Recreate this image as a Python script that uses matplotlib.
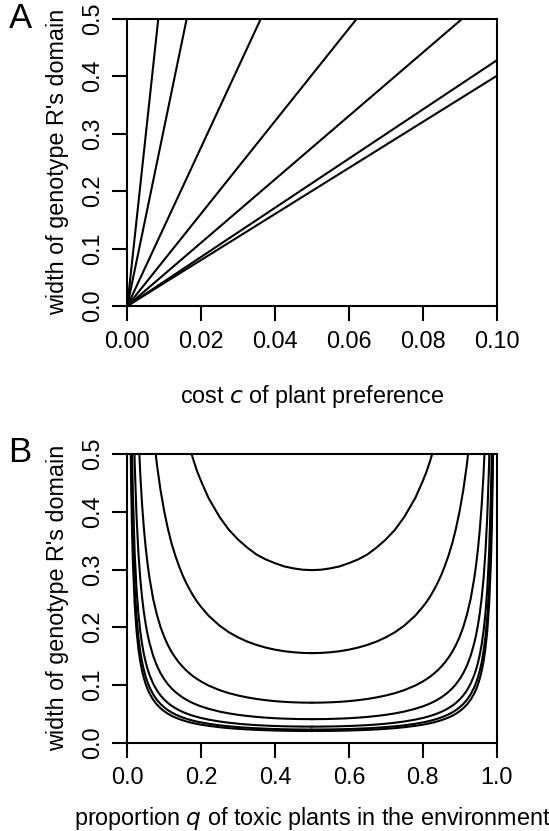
import matplotlib
matplotlib.use("Agg")
import matplotlib.pyplot as plt
import numpy as np

plt.rcParams['font.family'] = ['Liberation Sans', 'DejaVu Sans']

nan = np.nan

# Panel A: straight lines from the origin, end points
c_start = [0.0, 0.0, 0.0, 0.0, 0.0, 0.0, 0.0]
w_start = [0.0, 0.0, 0.0, 0.0, 0.0, 0.0, 0.0]
c_end = [0.0084, 0.0161, 0.0362, 0.0622, 0.0908, 0.100, 0.100]
w_end = [0.5, 0.5, 0.5, 0.5, 0.5, 0.427, 0.400]

# Panel B: U-shaped curves, symmetric about q = 0.5.
# Values read at q (left half); the same values are seen at the mirrored q on the right.
q_left = [0.004, 0.006, 0.008, 0.01, 0.0125, 0.015, 0.02, 0.025, 0.03, 0.035,
          0.04, 0.045, 0.05, 0.055, 0.06, 0.07, 0.08, 0.09, 0.1, 0.11,
          0.12, 0.13, 0.14, 0.15, 0.16, 0.17, 0.18, 0.19, 0.2, 0.22,
          0.25, 0.275, 0.3, 0.325, 0.35, 0.375, 0.4, 0.425, 0.45, 0.475, 0.5]
q_right = [0.996, 0.994, 0.992, 0.99, 0.9875, 0.985, 0.98, 0.975, 0.97, 0.965,
           0.96, 0.955, 0.95, 0.945, 0.94, 0.93, 0.92, 0.91, 0.9, 0.89,
           0.88, 0.87, 0.86, 0.85, 0.84, 0.83, 0.82, 0.81, 0.8, 0.78,
           0.75, 0.725, 0.7, 0.675, 0.65, 0.625, 0.6, 0.575, 0.55, 0.525, 0.5]

# nan = above the top of the plot
w1 = [nan, nan, nan, nan, nan, nan, nan, nan, nan, nan,
      nan, nan, nan, nan, nan, nan, nan, nan, nan, 0.715,
      0.666, 0.625, 0.590, 0.559, 0.533, 0.509, 0.488, 0.469, 0.453, 0.424,
      0.391, 0.369, 0.352, 0.338, 0.326, 0.3175, 0.311, 0.3054, 0.302, 0.2997, 0.299]
w2 = [nan, nan, nan, nan, nan, nan, nan, nan, nan, nan,
      nan, nan, nan, 0.668, 0.619, 0.542, 0.483, 0.4376, 0.401, 0.3706,
      0.345, 0.3241, 0.306, 0.2899, 0.2761, 0.264, 0.2530, 0.2434, 0.235, 0.2200,
      0.2026, 0.1913, 0.1823, 0.1750, 0.1692, 0.1646, 0.1610, 0.1583, 0.1565, 0.1554, 0.155]
w3 = [nan, nan, nan, nan, nan, nan, 0.785, 0.637, 0.538, 0.467,
      0.413, 0.3708, 0.337, 0.3093, 0.286, 0.249, 0.222, 0.2003, 0.183, 0.1689,
      0.157, 0.1472, 0.1386, 0.1313, 0.1248, 0.1192, 0.1141, 0.1097, 0.1057, 0.0988,
      0.0908, 0.0856, 0.0815, 0.0782, 0.0755, 0.0734, 0.0717, 0.0705, 0.0697, 0.0692, 0.069]
w4 = [nan, nan, nan, 0.944, 0.761, 0.639, 0.485, 0.392, 0.330, 0.285,
      0.2516, 0.2254, 0.2045, 0.1873, 0.1730, 0.1504, 0.1334, 0.1202, 0.1097, 0.1010,
      0.0938, 0.0878, 0.0826, 0.0781, 0.0742, 0.0707, 0.0677, 0.0650, 0.0626, 0.0585,
      0.0536, 0.0505, 0.0480, 0.0460, 0.0444, 0.0431, 0.0421, 0.0414, 0.0409, 0.0406, 0.0405]
w5 = [1.556, 1.050, 0.795, 0.641, 0.517, 0.434, 0.329, 0.266, 0.2239, 0.1936,
      0.1709, 0.1531, 0.1388, 0.1272, 0.1175, 0.1021, 0.0906, 0.0816, 0.0745, 0.0686,
      0.0637, 0.0596, 0.0561, 0.0530, 0.0504, 0.0480, 0.0460, 0.0441, 0.0425, 0.0397,
      0.0364, 0.0343, 0.0326, 0.0312, 0.0301, 0.0293, 0.0286, 0.0281, 0.0278, 0.0276, 0.0275]
w6 = [1.273, 0.859, 0.650, 0.524, 0.423, 0.355, 0.269, 0.2177, 0.1832, 0.1584,
      0.1398, 0.1252, 0.1136, 0.1041, 0.0961, 0.0835, 0.0741, 0.0668, 0.0609, 0.0561,
      0.0521, 0.0488, 0.0459, 0.0434, 0.0412, 0.0393, 0.0376, 0.0361, 0.0348, 0.0325,
      0.0298, 0.0281, 0.0267, 0.0256, 0.0247, 0.0240, 0.0234, 0.0230, 0.0227, 0.0226, 0.0225]
w7 = [1.132, 0.764, 0.578, 0.466, 0.376, 0.315, 0.239, 0.1935, 0.1628, 0.1408,
      0.1243, 0.1113, 0.1010, 0.0925, 0.0854, 0.0743, 0.0659, 0.0594, 0.0542, 0.0499,
      0.0463, 0.0433, 0.0408, 0.0386, 0.0366, 0.0349, 0.0334, 0.0321, 0.0309, 0.0289,
      0.0265, 0.0249, 0.0237, 0.0227, 0.0219, 0.0213, 0.0208, 0.0204, 0.0202, 0.0200, 0.0200]

curves_b = [w1, w2, w3, w4, w5, w6, w7]

ylabel = "width of genotype R's domain"
fs = 16.8
lw = 1.5

fig = plt.figure(figsize=(5.49, 8.31), dpi=100)
W, H = 549.0, 831.0

ax1 = fig.add_axes([127.3 / W, 1 - 306 / H, 369.2 / W, 287.5 / H])
ax2 = fig.add_axes([127.3 / W, 1 - 742.5 / H, 369.2 / W, 288.3 / H])

for cs, ws, ce, we in zip(c_start, w_start, c_end, w_end):
    ax1.plot([cs, ce], [ws, we], color="black", lw=lw, solid_capstyle="butt")

for w in curves_b:
    ax2.plot(q_left, w, color="black", lw=lw)
    ax2.plot(q_right, w, color="black", lw=lw)

ax1.set_xlim(0, 0.1)
ax1.set_xticks([0.0, 0.02, 0.04, 0.06, 0.08, 0.10])
ax1.set_xticklabels(["0.00", "0.02", "0.04", "0.06", "0.08", "0.10"])
ax2.set_xlim(0, 1)
ax2.set_xticks([0.0, 0.2, 0.4, 0.6, 0.8, 1.0])
ax2.set_xticklabels(["0.0", "0.2", "0.4", "0.6", "0.8", "1.0"])

for ax in (ax1, ax2):
    ax.set_ylim(0, 0.5)
    ax.set_yticks([0.0, 0.1, 0.2, 0.3, 0.4, 0.5])
    ax.set_yticklabels(["0.0", "0.1", "0.2", "0.3", "0.4", "0.5"], rotation=90, va="center")
    for s in ax.spines.values():
        s.set_linewidth(lw)
    ax.tick_params(direction="out", length=11, width=lw, labelsize=fs, pad=6)

fig.text(58 / W, 1 - 162 / H, ylabel, rotation=90, ha="center", va="center", fontsize=fs)
fig.text(58 / W, 1 - 598 / H, ylabel, rotation=90, ha="center", va="center", fontsize=fs)

fig.text(312 / W, 1 - 397 / H, "cost $\\it{c}$ of plant preference", ha="center", va="center", fontsize=fs)
fig.text(312 / W, 1 - 818 / H, "proportion $\\it{q}$ of toxic plants in the environment",
         ha="center", va="center", fontsize=fs)

fig.text(20 / W, 1 - 19 / H, "A", ha="center", va="center", fontsize=25)
fig.text(20 / W, 1 - 452 / H, "B", ha="center", va="center", fontsize=25)

fig.savefig("out.png", dpi=100)
